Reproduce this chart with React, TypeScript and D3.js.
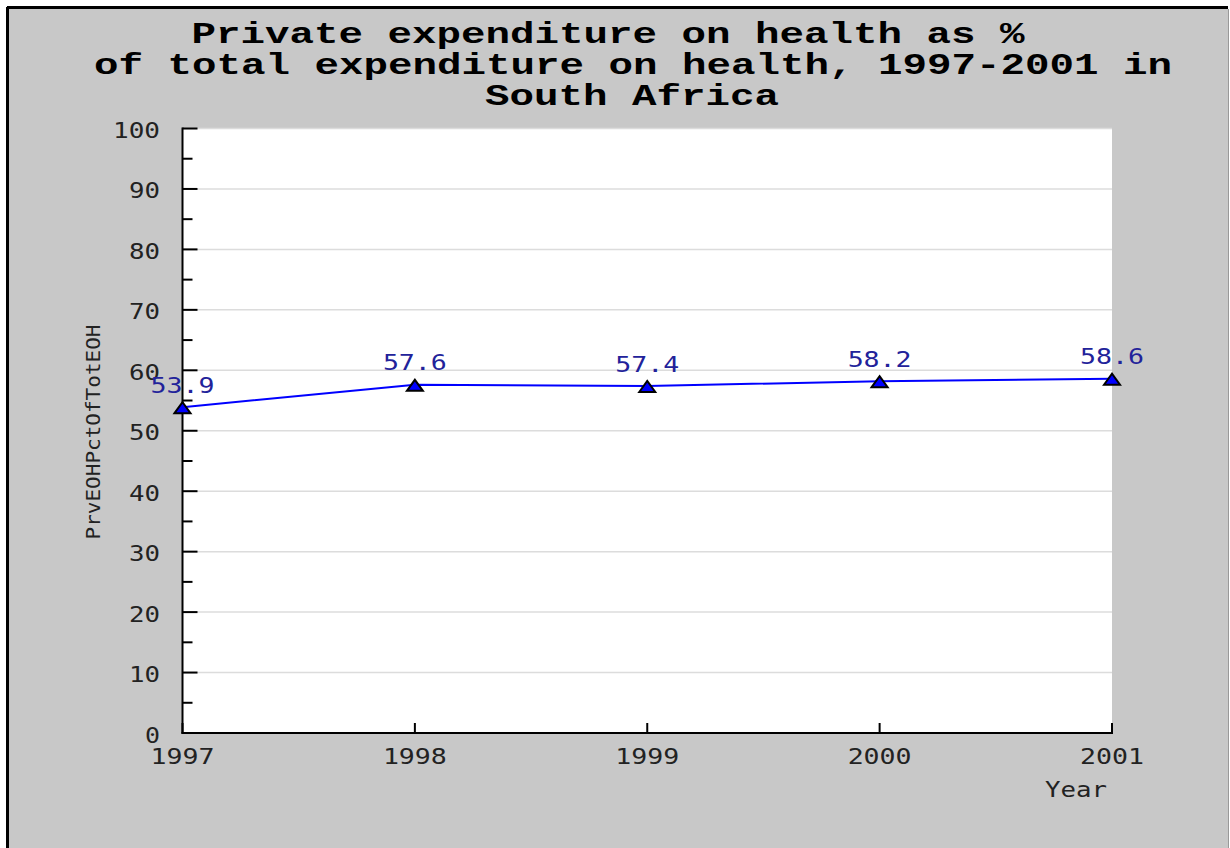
import React from "react";
import * as d3 from "d3";

const years = [1997, 1998, 1999, 2000, 2001];
const values = [53.9, 57.6, 57.4, 58.2, 58.6];
const valueLabels = ["53.9", "57.6", "57.4", "58.2", "58.6"];
const yTicks = [0, 10, 20, 30, 40, 50, 60, 70, 80, 90, 100];
const yMinorTicks = [5, 15, 25, 35, 45, 55, 65, 75, 85, 95];
const titleLines = [
  "Private expenditure on health as %",
  "of total expenditure on health, 1997-2001 in",
  "South Africa",
];
const yAxisTitle = "PrvEOHPctOfTotEOH";
const xAxisTitle = "Year";

const W = 1230;
const H = 848;
const left = 182.5;
const right = 1112;
const top = 128.5;
const bottom = 733;

export default function App() {
  const x = d3.scaleLinear().domain([1997, 2001]).range([left, right]);
  const y = d3.scaleLinear().domain([0, 100]).range([bottom, top]);
  const line = d3
    .line<number>()
    .x((_, i) => x(years[i]))
    .y((d) => y(d));
  const tri = "M-8,6L0,-5L8,6Z";
  const mono = "'DejaVu Sans Mono', monospace";
  const CW = 16; // char advance for tick labels
  const titleCenters = [608, 633, 632];
  const titleBase = [43, 74, 105];

  return (
    <svg
      width={W}
      height={H}
      style={{ position: "absolute", left: 0, top: 0, display: "block" }}
    >
      <rect x={0} y={0} width={W} height={H} fill="#ffffff" />
      <rect x={8} y={8} width={1220} height={H} fill="#c8c8c8" />
      <line x1={7.5} y1={7} x2={7.5} y2={H} stroke="#000" strokeWidth={3} />
      <line x1={7} y1={7.5} x2={1228} y2={7.5} stroke="#000" strokeWidth={3} />
      <line x1={1228.5} y1={9} x2={1228.5} y2={H} stroke="#999" strokeWidth={1} />

      {titleLines.map((t, i) => (
        <text
          key={i}
          x={titleCenters[i]}
          y={titleBase[i]}
          textAnchor="middle"
          fontFamily="'Liberation Mono', monospace"
          fontWeight="bold"
          fontSize={29}
          textLength={t.length * 24.5}
          lengthAdjust="spacingAndGlyphs"
          fill="#000"
        >
          {t}
        </text>
      ))}

      <rect x={left} y={top} width={right - left} height={bottom - top} fill="#fff" />
      {yTicks.slice(1).map((t) => (
        <line
          key={t}
          x1={left}
          x2={right}
          y1={y(t)}
          y2={y(t)}
          stroke="#dcdcdc"
          strokeWidth={1.5}
        />
      ))}

      {/* axes */}
      <line x1={left} y1={top - 1} x2={left} y2={bottom + 1} stroke="#000" strokeWidth={2} />
      <line x1={left - 1} y1={bottom} x2={right + 1} y2={bottom} stroke="#000" strokeWidth={2} />
      {yTicks.map((t) => (
        <line key={t} x1={left} x2={left + 15} y1={y(t)} y2={y(t)} stroke="#000" strokeWidth={2} />
      ))}
      {yMinorTicks.map((t) => (
        <line key={t} x1={left} x2={left + 10} y1={y(t)} y2={y(t)} stroke="#000" strokeWidth={2} />
      ))}
      {years.map((yr) => (
        <line key={yr} x1={x(yr)} x2={x(yr)} y1={bottom} y2={bottom - 10} stroke="#000" strokeWidth={2} />
      ))}

      {yTicks.map((t) => (
        <text
          key={t}
          x={160}
          y={y(t) + 9.5}
          textAnchor="end"
          fontFamily={mono}
          fontSize={20.5}
          textLength={String(t).length * CW - 1}
          lengthAdjust="spacingAndGlyphs"
          fill="#222"
        >
          {t}
        </text>
      ))}
      {years.map((yr) => (
        <text
          key={yr}
          x={x(yr)}
          y={764}
          textAnchor="middle"
          fontFamily={mono}
          fontSize={20.5}
          textLength={String(yr).length * CW}
          lengthAdjust="spacingAndGlyphs"
          fill="#222"
        >
          {yr}
        </text>
      ))}
      <text
        x={1107}
        y={797}
        textAnchor="end"
        fontFamily={mono}
        fontSize={20.5}
        textLength={62}
        lengthAdjust="spacingAndGlyphs"
        fill="#222"
      >
        {xAxisTitle}
      </text>
      <text
        transform={`translate(100, 432) rotate(-90)`}
        textAnchor="middle"
        fontFamily={mono}
        fontSize={19.5}
        textLength={215}
        lengthAdjust="spacingAndGlyphs"
        fill="#222"
      >
        {yAxisTitle}
      </text>

      <path d={line(values) as string} fill="none" stroke="#0000ff" strokeWidth={2} />
      {values.map((v, i) => (
        <path
          key={i}
          d={tri}
          transform={`translate(${x(years[i])}, ${y(v)})`}
          fill="#0000ff"
          stroke="#000"
          strokeWidth={2}
        />
      ))}
      {values.map((v, i) => (
        <text
          key={i}
          x={x(years[i])}
          y={y(v) - 14.5}
          textAnchor="middle"
          fontFamily={mono}
          fontSize={20.5}
          textLength={valueLabels[i].length * CW}
          lengthAdjust="spacingAndGlyphs"
          fill="#22229a"
        >
          {valueLabels[i]}
        </text>
      ))}
    </svg>
  );
}
